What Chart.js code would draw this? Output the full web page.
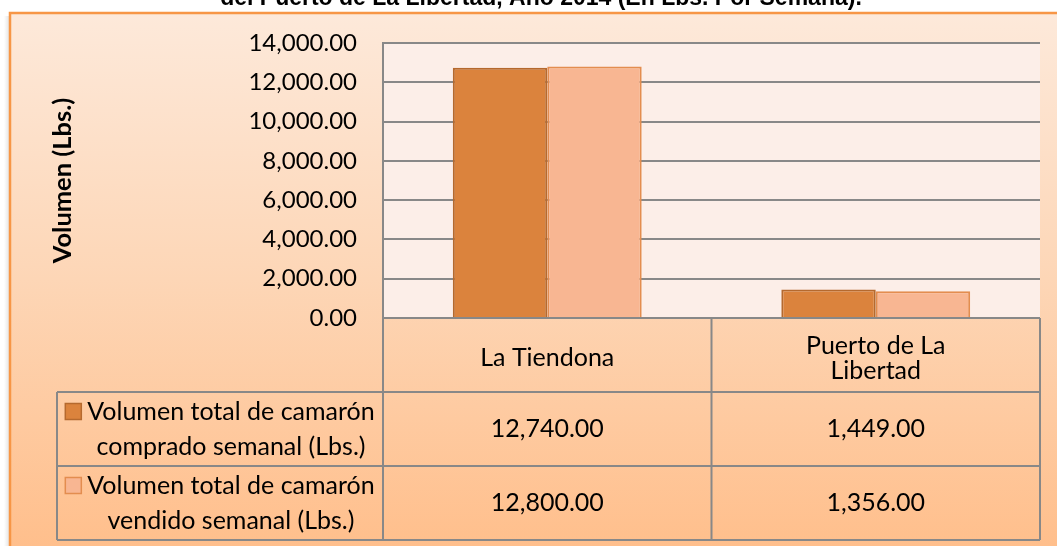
<!DOCTYPE html>
<html>
<head>
<meta charset="utf-8">
<script src="https://cdn.jsdelivr.net/npm/chart.js@4.4.1/dist/chart.umd.min.js"></script>
<style>
  html, body { margin: 0; padding: 0; background: #fff; overflow: hidden; }
  #wrap { position: relative; width: 1057px; height: 546px; }
</style>
</head>
<body>
<div id="wrap"><canvas id="chart" width="1057" height="546"></canvas></div>
<script>
const TITLE = 'del Puerto de La Libertad, Año 2014 (En Lbs. Por Semana).';
const Y_TITLE = 'Volumen (Lbs.)';
const categories = ['La Tiendona', 'Puerto de La Libertad'];
const categoryLines = [['La Tiendona'], ['Puerto de La', 'Libertad']];
const seriesNames = ['Volumen total de camarón comprado semanal (Lbs.)', 'Volumen total de camarón vendido semanal (Lbs.)'];
const seriesLines = [
  ['Volumen total de camarón', 'comprado semanal (Lbs.)'],
  ['Volumen total de camarón', 'vendido semanal (Lbs.)'],
];
const comprado = [12740, 1449];
const vendido = [12800, 1356];
const yMin = 0, yMax = 14000, yStep = 2000;

const FONT = 'Lato';
const fillColors = ['#DB833D', '#F8B692'];
const borderColors = ['#B5692E', '#E38D4F'];
const TABLE_ROW_H = 74;
const LEGEND_LEFT = 57;

const fmt = v => v.toLocaleString('en-US', { minimumFractionDigits: 2, maximumFractionDigits: 2 });

const panel = {
  id: 'panel',
  beforeDraw(chart) {
    const { ctx, chartArea: a, width, height } = chart;
    ctx.save();
    ctx.fillStyle = '#fff';
    ctx.fillRect(0, 0, width, height);
    // soft shadow on the left of the frame
    const sh = ctx.createLinearGradient(4, 0, 10, 0);
    sh.addColorStop(0, 'rgba(0,0,0,0)');
    sh.addColorStop(1, 'rgba(0,0,0,0.12)');
    ctx.fillStyle = sh;
    ctx.fillRect(4, 16, 6, height);
    const g = ctx.createLinearGradient(0, 13, 0, height);
    g.addColorStop(0, '#FDE9DA');
    g.addColorStop(0.5, '#FDD6B6');
    g.addColorStop(1, '#FFBF8C');
    ctx.fillStyle = g;
    ctx.fillRect(10, 13, width - 10, height - 13);
    ctx.strokeStyle = '#F79646';
    ctx.lineWidth = 2.5;
    ctx.beginPath();
    ctx.moveTo(width + 5, 13);
    ctx.lineTo(10, 13);
    ctx.lineTo(10, height + 5);
    ctx.stroke();
    ctx.fillStyle = '#FCEEE8';
    ctx.fillRect(a.left, a.top, a.right - a.left, a.bottom - a.top);
    ctx.restore();
  },
  afterDraw(chart) {
    const { ctx, chartArea: a } = chart;
    ctx.save();
    // title (mostly cut off at the top of the picture)
    ctx.font = 'bold 23px "Liberation Sans"';
    ctx.fillStyle = '#000';
    ctx.textAlign = 'center';
    ctx.textBaseline = 'alphabetic';
    ctx.fillText(TITLE, 541, 5);

    // data table under the plot
    const x = chart.scales.x;
    const mid = (x.getPixelForValue(0) + x.getPixelForValue(1)) / 2;
    const cols = [a.left, mid, a.right];
    const r0 = a.bottom, r1 = r0 + TABLE_ROW_H, r2 = r1 + TABLE_ROW_H, r3 = r2 + TABLE_ROW_H;
    ctx.strokeStyle = '#888888';
    ctx.lineWidth = 2;
    ctx.beginPath();
    cols.forEach(cx => { ctx.moveTo(cx, r0); ctx.lineTo(cx, r3); });
    ctx.moveTo(LEGEND_LEFT, r1); ctx.lineTo(LEGEND_LEFT, r3);
    ctx.moveTo(a.left, r0); ctx.lineTo(a.right, r0);
    [r1, r2, r3].forEach(ry => { ctx.moveTo(LEGEND_LEFT, ry); ctx.lineTo(a.right, ry); });
    ctx.stroke();

    ctx.fillStyle = '#000';
    ctx.font = `25px ${FONT}`;
    ctx.textAlign = 'center';
    ctx.textBaseline = 'middle';
    categories.forEach((c, i) => {
      const cx = x.getPixelForValue(i);
      const lines = categoryLines[i];
      const cy = (r0 + r1) / 2 + 3;
      lines.forEach((ln, k) => ctx.fillText(ln, cx, cy + (k - (lines.length - 1) / 2) * 25));
    });
    const series = [comprado, vendido];
    const legendCx = (LEGEND_LEFT + a.left) / 2 + 11;
    series.forEach((vals, s) => {
      const top = r1 + s * TABLE_ROW_H;
      const cy = top + TABLE_ROW_H / 2;
      vals.forEach((v, i) => ctx.fillText(fmt(v), x.getPixelForValue(i), cy));
      const lines = seriesLines[s];
      ctx.fillStyle = '#000';
      lines.forEach((ln, k) => ctx.fillText(ln, legendCx, cy + (k - 0.5) * 35));
      const w0 = ctx.measureText(lines[0]).width;
      const bx = legendCx - w0 / 2 - 22, by = cy - 17.5 - 8;
      ctx.fillStyle = fillColors[s];
      ctx.fillRect(bx, by, 16, 16);
      ctx.strokeStyle = borderColors[s];
      ctx.lineWidth = 1.5;
      ctx.strokeRect(bx, by, 16, 16);
      ctx.fillStyle = '#000';
    });
    ctx.restore();
  },
};

new Chart(document.getElementById('chart'), {
  type: 'bar',
  data: {
    labels: categories,
    datasets: [
      { label: seriesNames[0], data: comprado, backgroundColor: fillColors[0], borderColor: borderColors[0], borderWidth: 2 },
      { label: seriesNames[1], data: vendido, backgroundColor: fillColors[1], borderColor: borderColors[1], borderWidth: 2 },
    ],
  },
  options: {
    responsive: false,
    devicePixelRatio: 1,
    animation: false,
    layout: { padding: { left: 0, top: 43, right: 17, bottom: 228 } },
    plugins: { legend: { display: false }, tooltip: { enabled: false }, title: { display: false } },
    datasets: { bar: { categoryPercentage: 0.575, barPercentage: 1 } },
    scales: {
      x: { display: false },
      y: {
        min: yMin, max: yMax,
        afterFit: s => { s.width = 383; },
        border: { display: true, color: '#888888', width: 2 },
        grid: { color: '#888888', lineWidth: 2, drawTicks: false },
        ticks: {
          stepSize: yStep, padding: 26, color: '#000',
          font: { family: FONT, size: 24 },
          callback: v => fmt(v),
        },
        title: {
          display: true, text: Y_TITLE, color: '#000',
          font: { family: FONT, size: 25.5, weight: 'bold' },
          padding: { top: 47, bottom: 0 },
        },
      },
    },
  },
  plugins: [panel],
});
</script>
</body>
</html>
